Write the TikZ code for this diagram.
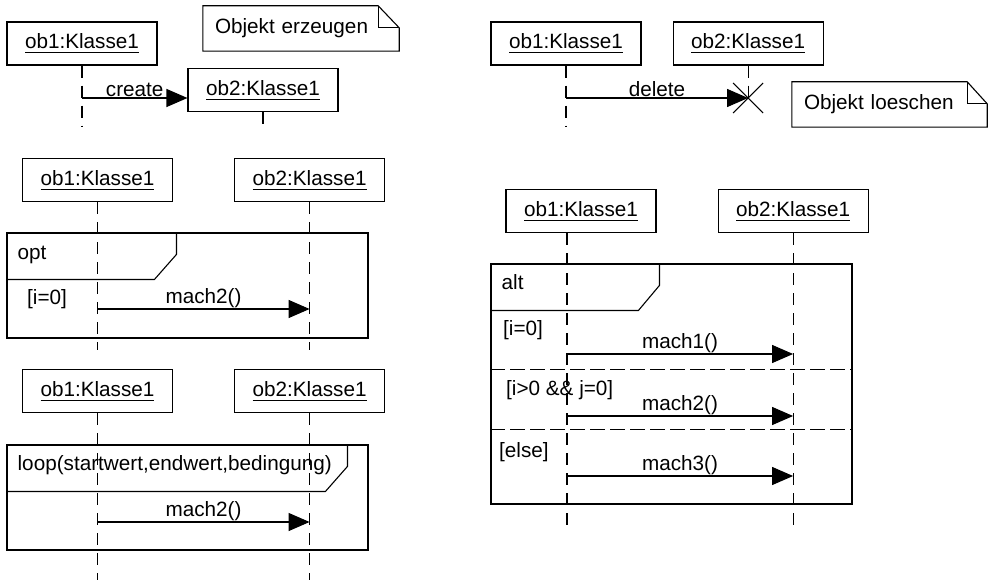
\documentclass[tikz,border=0pt]{standalone}
\usepackage{fontspec}
\setmainfont{Liberation Sans}
\usetikzlibrary{arrows.meta, positioning, calc}

\newcommand{\objname}[1]{\setbox0\hbox{#1}\rlap{\rule[-4.5pt]{\wd0}{1pt}}\box0}

\begin{document}
\begin{tikzpicture}[
    x=1pt, y=-1pt,
    every node/.style={font=\fontsize{20.7}{24}\selectfont},
    objbox/.style={rectangle, draw, line width=1.1pt, minimum width=150pt, minimum height=43pt, inner sep=0pt},
    note/.style={rectangle, text width=172pt, inner xsep=12pt, inner ysep=0pt, minimum height=45pt, align=left},
    frame/.style={rectangle, draw, line width=1.1pt, minimum width=361pt, inner sep=0pt},
    outline/.style={line width=1.1pt},
    lifeline/.style={line width=1.1pt, dash pattern=on 12pt off 8pt},
    separator/.style={line width=1.1pt, dash pattern=on 15pt off 5pt},
    msg/.style={-{Triangle[length=21pt, width=18pt]}, line width=1.1pt},
    lbl/.style={above, inner sep=1pt},
    tag/.style={anchor=base west, inner sep=0pt},
]
\useasboundingbox (0,0) rectangle (988,580);

% Objekt erzeugen
\node[objbox] (tl1) at (82,43.5) {\objname{ob1:Klasse1}};
\node[objbox] (tl2) at (263,90) {\objname{ob2:Klasse1}};
\node[note] (noteadd) at (301,28.5) {Objekt erzeugen};
\draw[outline] (noteadd.south west) -- (noteadd.north west) -- ($(noteadd.north east)+(-21,0)$)
    -- ($(noteadd.north east)+(0,22)$) -- (noteadd.south east) -- cycle;
\draw[outline] ($(noteadd.north east)+(-21,0)$) |- ($(noteadd.north east)+(0,22)$);
\coordinate (tl1end) at (82,127);
\coordinate (tl2end) at (263,127);
\coordinate (createfrom) at (82,98);
\draw[lifeline] (tl1) -- (tl1end);
\draw[lifeline] (tl2) -- (tl2end);
\draw[msg] (createfrom) -- node[lbl]{create} (createfrom -| tl2.west);

% Objekt loeschen
\node[objbox] (tr1) at (566,43.5) {\objname{ob1:Klasse1}};
\node[objbox, right=31pt of tr1] (tr2) {\objname{ob2:Klasse1}};
\node[note, text width=171pt] (notedel) at (889.5,104.5) {Objekt loeschen};
\draw[outline] (notedel.south west) -- (notedel.north west) -- ($(notedel.north east)+(-20,0)$)
    -- ($(notedel.north east)+(0,22)$) -- (notedel.south east) -- cycle;
\draw[outline] ($(notedel.north east)+(-20,0)$) |- ($(notedel.north east)+(0,22)$);
\coordinate (tr1end) at (566,127);
\coordinate (delfrom) at (566,98);
\coordinate (delx) at (tr2.south |- delfrom);
\draw[lifeline] (tr1) -- (tr1end);
\draw[lifeline] (tr2) -- (delx);
\draw[msg] (delfrom) -- node[lbl]{delete} (delx);
\draw[outline] ($(delx)+(-15,-15)$) -- ($(delx)+(15,15)$);
\draw[outline] ($(delx)+(-15,15)$) -- ($(delx)+(15,-15)$);

% opt
\node[objbox] (o1) at (97.5,180) {\objname{ob1:Klasse1}};
\node[objbox, right=61pt of o1] (o2) {\objname{ob2:Klasse1}};
\node[frame, minimum height=105pt] (optframe) at (187.5,285.5) {};
\draw[outline] ($(optframe.north west)+(0,47)$) -- ++(148,0) -- ++(22,-25) -- ++(0,-22);
\node[tag] (opttag) at ($(optframe.north west)+(11,27)$) {opt};
\node[tag] (optguard) at (27,304) {[i=0]};
\coordinate (o1end) at (o1.south |- 0,350);
\coordinate (o2end) at (o2.south |- 0,350);
\draw[lifeline] (o1) -- (o1end);
\draw[lifeline] (o2) -- (o2end);
\draw[msg] (o1.south |- 0,309) -- node[lbl]{mach2()} (o2.south |- 0,309);

% loop
\node[objbox] (l1) at (97.5,391) {\objname{ob1:Klasse1}};
\node[objbox, right=61pt of l1] (l2) {\objname{ob2:Klasse1}};
\node[frame, minimum height=105pt] (loopframe) at (187.5,497.5) {};
\draw[outline] ($(loopframe.north west)+(0,47)$) -- ++(319,0) -- ++(22,-25) -- ++(0,-22);
\node[tag] (looptag) at ($(loopframe.north west)+(11,26)$) {loop(startwert,endwert,bedingung)};
\coordinate (l1end) at (l1.south |- 0,580);
\coordinate (l2end) at (l2.south |- 0,580);
\draw[lifeline] (l1) -- (l1end);
\draw[lifeline] (l2) -- (l2end);
\draw[msg] (l1.south |- 0,522) -- node[lbl]{mach2()} (l2.south |- 0,522);

% alt
\node[objbox] (a1) at (581,211) {\objname{ob1:Klasse1}};
\node[objbox, right=61pt of a1] (a2) {\objname{ob2:Klasse1}};
\coordinate (a1top) at ($(a1.south)+(-14,0)$);
\node[frame, minimum height=240pt] (altframe) at (671.5,384) {};
\draw[outline] ($(altframe.north west)+(0,47)$) -- ++(148,0) -- ++(21,-25) -- ++(0,-22);
\node[tag] (alttag) at ($(altframe.north west)+(11,26)$) {alt};
\draw[separator] ($(altframe.north west)+(0,106)$) -- ($(altframe.north east)+(0,106)$);
\draw[separator] ($(altframe.north west)+(0,166)$) -- ($(altframe.north east)+(0,166)$);
\node[tag] (altguard1) at (503,335) {[i=0]};
\node[tag] (altguard2) at (506,395) {[i>0 \&\& j=0]};
\node[tag] (altguard3) at (499,457) {[else]};
\coordinate (a1end) at (a1top |- 0,528);
\coordinate (a2end) at (a2.south |- 0,528);
\draw[lifeline] (a1top) -- (a1end);
\draw[lifeline] (a2) -- (a2end);
\draw[msg] (a1top |- 0,354) -- node[lbl]{mach1()} (a2.south |- 0,354);
\draw[msg] (a1top |- 0,416) -- node[lbl]{mach2()} (a2.south |- 0,416);
\draw[msg] (a1top |- 0,476) -- node[lbl]{mach3()} (a2.south |- 0,476);

\end{tikzpicture}
\end{document}
